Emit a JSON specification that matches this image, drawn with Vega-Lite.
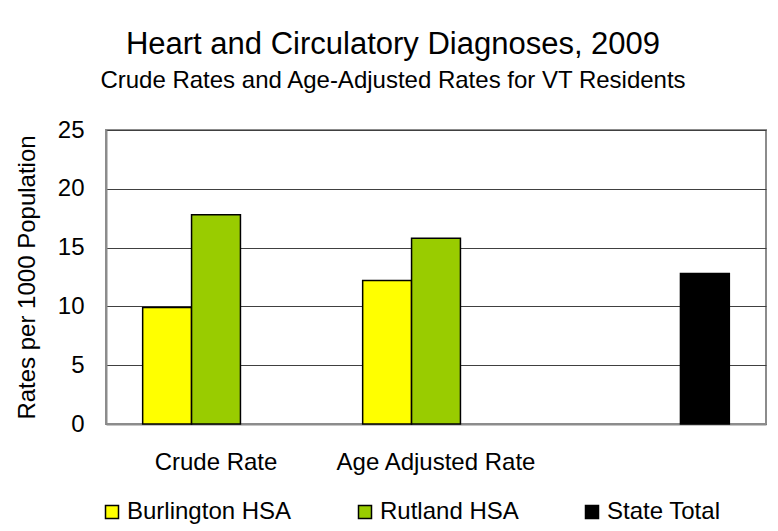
{
  "$schema": "https://vega.github.io/schema/vega-lite/v6.json",
  "autosize": {"type": "none"},
  "padding": {"left": 106, "top": 130, "right": 12, "bottom": 107},
  "width": 660,
  "height": 294,
  "background": "white",
  "title": {
    "text": "Heart and Circulatory Diagnoses, 2009",
    "subtitle": "Crude Rates and Age-Adjusted Rates for VT Residents",
    "anchor": "middle",
    "frame": "group",
    "dx": -43,
    "offset": 24,
    "font": "Liberation Sans",
    "fontSize": 31,
    "fontWeight": "normal",
    "color": "black",
    "subtitleFont": "Liberation Sans",
    "subtitleFontSize": 24,
    "subtitleColor": "black",
    "subtitlePadding": 8
  },
  "data": {
    "values": [
      {"rate": "Crude Rate", "series": "Burlington HSA", "value": 9.9},
      {"rate": "Crude Rate", "series": "Rutland HSA", "value": 17.8},
      {"rate": "Age Adjusted Rate", "series": "Burlington HSA", "value": 12.2},
      {"rate": "Age Adjusted Rate", "series": "Rutland HSA", "value": 15.8},
      {"rate": "State Total", "series": "State Total", "value": 12.8}
    ]
  },
  "mark": {"type": "bar", "stroke": "black", "strokeWidth": 1.5},
  "encoding": {
    "x": {
      "field": "rate",
      "type": "nominal",
      "sort": ["Crude Rate", "Age Adjusted Rate", "State Total"],
      "scale": {"paddingInner": 0, "paddingOuter": 0},
      "axis": {
        "title": null,
        "labelAngle": 0,
        "ticks": false,
        "labelPadding": 26,
        "labelLimit": 400,
        "labelFont": "Liberation Sans",
        "labelFontSize": 24,
        "labelColor": "black",
        "labelExpr": "datum.value == 'State Total' ? '' : datum.label",
        "domainColor": "#8c8c8c",
        "domainWidth": 2
      }
    },
    "xOffset": {
      "field": "series",
      "type": "nominal",
      "sort": ["Burlington HSA", "Rutland HSA", "State Total"],
      "scale": {"domain": ["Burlington HSA", "Rutland HSA", "State Total"], "paddingInner": 0, "paddingOuter": 0.75}
    },
    "y": {
      "field": "value",
      "type": "quantitative",
      "scale": {"domain": [0, 25], "nice": false},
      "axis": {
        "values": [0, 5, 10, 15, 20, 25],
        "title": "Rates per 1000 Population",
        "titleFont": "Liberation Sans",
        "titleFontSize": 24,
        "titleFontWeight": "normal",
        "titleColor": "black",
        "titlePadding": 18,
        "labelFont": "Liberation Sans",
        "labelFontSize": 24,
        "labelColor": "black",
        "labelPadding": 22,
        "ticks": false,
        "grid": true,
        "gridColor": "#404040",
        "gridWidth": 1,
        "domainColor": "#8c8c8c",
        "domainWidth": 2
      }
    },
    "color": {
      "field": "series",
      "type": "nominal",
      "scale": {
        "domain": ["Burlington HSA", "Rutland HSA", "State Total"],
        "range": ["#FFFF00", "#99CC00", "#000000"]
      },
      "legend": {
        "title": null,
        "orient": "none",
        "direction": "horizontal",
        "columns": 3,
        "legendX": -6,
        "legendY": 370,
        "columnPadding": 61,
        "symbolType": "square",
        "symbolSize": 169,
        "symbolStrokeColor": "black",
        "symbolStrokeWidth": 1.5,
        "labelFont": "Liberation Sans",
        "labelFontSize": 24,
        "labelColor": "black",
        "labelOffset": 3,
        "labelLimit": 400
      }
    }
  },
  "config": {
    "view": {"stroke": "#8c8c8c", "strokeWidth": 2}
  }
}
